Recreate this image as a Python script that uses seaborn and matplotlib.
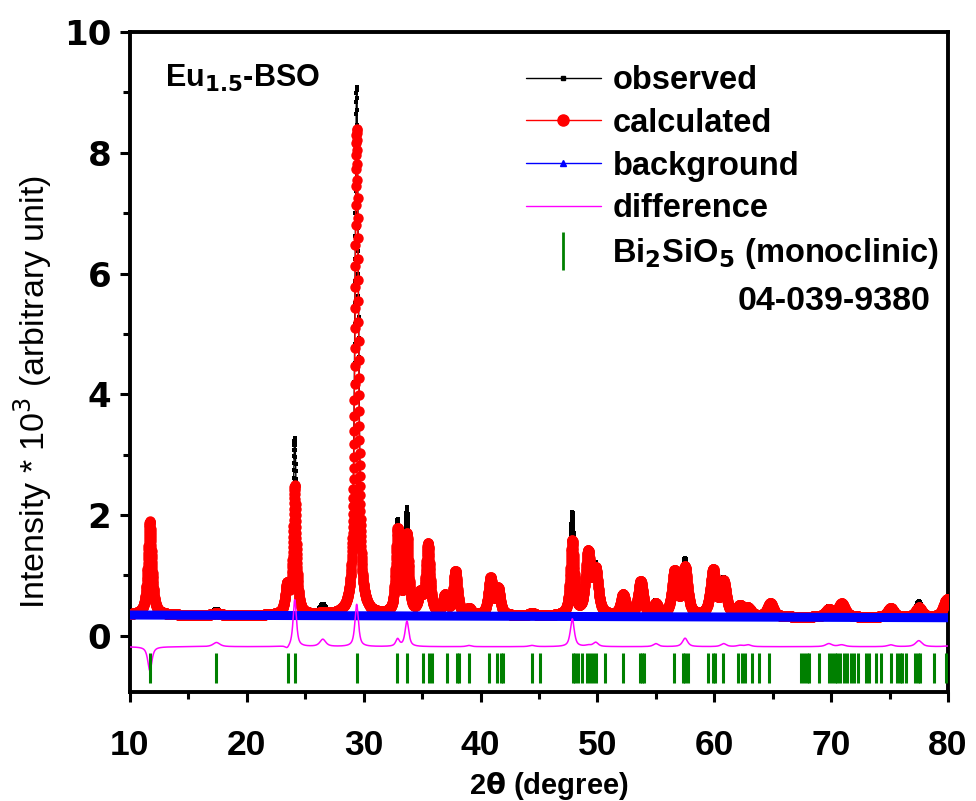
import numpy as np
import pandas as pd
import matplotlib
matplotlib.use("Agg")
import matplotlib.pyplot as plt
import seaborn as sns
from matplotlib.lines import Line2D
from matplotlib.ticker import MultipleLocator

sns.set_theme(style="white")
plt.rcParams['font.family'] = ['Liberation Sans', 'DejaVu Sans']
for k in ["text.color", "axes.labelcolor", "xtick.color", "ytick.color", "axes.edgecolor"]:
    plt.rcParams[k] = "black"

# ---- data ----
# reflection positions (2theta, deg), calculated / observed peak heights above background, FWHM (deg)
peak_pos = [11.70, 17.40, 23.45, 24.10, 26.50, 29.40, 32.90, 33.70, 34.85, 35.50,
            36.95, 37.85, 39.00, 40.85, 41.50, 44.40, 47.85, 49.20, 49.85, 52.20,
            53.70, 55.00, 56.60, 57.50, 59.90, 60.80, 62.20, 62.90, 64.80, 69.80,
            70.90, 75.10, 77.50, 79.90]
calc_height = [1.55, 0.03, 0.45, 2.12, 0.03, 8.05, 1.38, 1.28, 0.30, 1.15,
               0.30, 0.72, 0.10, 0.60, 0.42, 0.04, 1.22, 1.00, 0.70, 0.34,
               0.57, 0.18, 0.72, 0.78, 0.75, 0.54, 0.16, 0.12, 0.22, 0.12,
               0.22, 0.15, 0.16, 0.30]
obs_height = [1.15, 0.10, 0.40, 2.90, 0.15, 8.75, 1.50, 1.70, 0.30, 1.15,
              0.30, 0.72, 0.12, 0.60, 0.42, 0.06, 1.68, 1.02, 0.77, 0.34,
              0.57, 0.23, 0.72, 0.92, 0.75, 0.59, 0.18, 0.15, 0.22, 0.17,
              0.25, 0.18, 0.26, 0.31]
peak_fwhm = [0.42, 0.70, 0.40, 0.34, 0.60, 0.36, 0.38, 0.38, 0.42, 0.42,
             0.42, 0.42, 0.50, 0.44, 0.44, 0.60, 0.40, 0.52, 0.52, 0.50,
             0.50, 0.52, 0.52, 0.52, 0.55, 0.55, 0.60, 0.60, 0.60, 0.65,
             0.70, 0.65, 0.65, 0.70]
# linear background anchors
bg_x = [10.0, 80.0]
bg_y = [0.345, 0.300]
diff_offset = -0.18
# Bragg reflection markers of Bi2SiO5 (monoclinic)
bragg_pos = [11.73, 17.34, 23.50, 24.09, 29.44, 32.88, 33.74, 35.10, 35.55, 35.87,
             37.14, 37.95, 38.14, 39.04, 40.76, 41.40, 41.71, 41.94, 44.43, 45.07,
             47.88, 48.10, 48.37, 48.69, 49.10, 49.37, 49.60, 49.91, 50.64, 52.22,
             53.67, 53.81, 53.99, 56.57, 57.30, 57.52, 57.75, 59.43, 59.88, 60.06,
             60.74, 62.06, 62.37, 62.60, 63.19, 63.82, 64.64, 67.40, 67.67, 67.94,
             68.12, 68.94, 69.85, 70.07, 70.30, 70.52, 70.75, 71.07, 71.39, 71.66,
             71.93, 72.34, 72.97, 73.24, 73.83, 74.24, 75.15, 75.64, 75.87, 76.10,
             76.41, 77.18, 77.46, 77.64, 78.77, 79.81]
bragg_bottom, bragg_top = -0.78, -0.28

# ---- profiles from the peak table ----
two_theta = np.arange(10.0, 80.0001, 0.012)
background = np.interp(two_theta, bg_x, bg_y)

def profile(heights):
    y = np.zeros_like(two_theta)
    for p, h, w in zip(peak_pos, heights, peak_fwhm):
        d = (two_theta - p) / w
        y += h * (0.75 / (1 + 4 * d ** 2) + 0.25 * np.exp(-4 * np.log(2) * d ** 2))
    return y

calculated = background + profile(calc_height)
observed = background + profile(obs_height)
difference = observed - calculated + diff_offset

df = pd.DataFrame({"tt": two_theta, "obs": observed, "calc": calculated,
                   "bg": background, "diff": difference})

# ---- figure ----
fig = plt.figure(figsize=(9.76, 8.01), dpi=100)
ax = fig.add_axes([130/976, 1-692/801, 818/976, 660/801])

sns.lineplot(data=df, x="tt", y="obs", ax=ax, color="black", lw=1.0,
             marker="s", markersize=3, markeredgewidth=0, errorbar=None,
             sort=False, zorder=2)
sns.lineplot(data=df, x="tt", y="calc", ax=ax, color="red", lw=1.0,
             marker="o", markersize=7.5, markeredgewidth=0, errorbar=None,
             sort=False, zorder=3)
sns.lineplot(data=df, x="tt", y="bg", ax=ax, color="blue", lw=6.5,
             errorbar=None, sort=False, zorder=4)
sns.lineplot(data=df, x="tt", y="diff", ax=ax, color="#ff00ff", lw=1.1,
             errorbar=None, sort=False, zorder=4)
ax.vlines(bragg_pos, bragg_bottom, bragg_top, color="#008000", lw=2.2, zorder=4)

ax.set_xlim(10, 80)
ax.set_ylim(-0.93, 10)
ax.xaxis.set_major_locator(MultipleLocator(10))
ax.xaxis.set_minor_locator(MultipleLocator(5))
ax.yaxis.set_major_locator(MultipleLocator(2))
ax.yaxis.set_minor_locator(MultipleLocator(1))
ax.tick_params(which="both", direction="out", bottom=True, left=True,
               top=False, right=False, width=2.2, color="black")
ax.tick_params(which="major", length=7.5)
ax.tick_params(which="minor", length=5)
ax.tick_params(axis="x", pad=19)
ax.tick_params(axis="y", pad=6)
for lab in ax.get_xticklabels():
    lab.set_fontweight('bold')
    lab.set_fontsize(25.5)
for lab in ax.get_yticklabels():
    lab.set_fontfamily(['DejaVu Sans'])
    lab.set_fontweight('bold')
    lab.set_fontsize(24.5)
for s in ax.spines.values():
    s.set_linewidth(2.8)
    s.set_color("black")

ax.set_xlabel(r"2$\mathbf{\theta}$ (degree)", fontsize=21, fontweight="bold")
ax.xaxis.set_label_coords(0.512, -0.118)
ax.set_ylabel(r"Intensity * 10$^3$ (arbitrary unit)", fontsize=24.5)
ax.yaxis.set_label_coords(-0.093, 0.455)

ax.text(0.043, 0.93, r"Eu$_{\mathbf{1.5}}$-BSO", transform=ax.transAxes,
        fontsize=22, fontweight="bold", va="center", ha="left")

handles = [
    Line2D([], [], color="black", lw=1, marker="s", markersize=3),
    Line2D([], [], color="red", lw=1, marker="o", markersize=8),
    Line2D([], [], color="blue", lw=1, marker="^", markersize=4),
    Line2D([], [], color="#ff00ff", lw=1),
    Line2D([], [], color="#008000", lw=0, marker="|", markersize=28, markeredgewidth=2),
]
labels = ["observed", "calculated", "background", "difference",
          r"Bi$_\mathbf{2}$SiO$_\mathbf{5}$ (monoclinic)"]
leg = ax.legend(handles, labels, loc="upper left", bbox_to_anchor=(0.484, 0.950),
                frameon=False, borderaxespad=0, borderpad=0, handlelength=2.3,
                handletextpad=0.35, labelspacing=0.36,
                prop={"weight": "bold", "size": 23.5})
ax.text(0.978, 0.592, "04-039-9380", transform=ax.transAxes, fontsize=24.5,
        fontweight="bold", ha="right", va="center")

fig.savefig("out.png", dpi=100)
